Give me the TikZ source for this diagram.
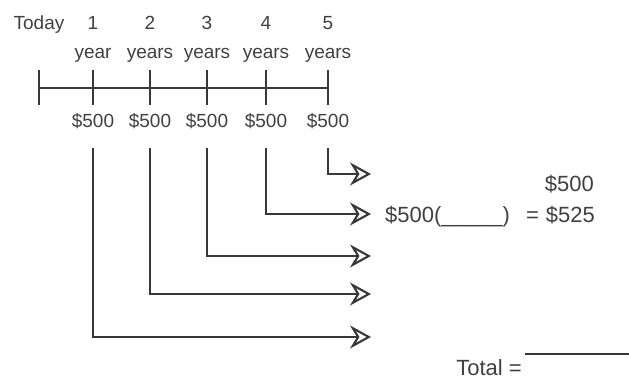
\documentclass[tikz,border=0pt]{standalone}
\usepackage{fontspec}
\setmainfont{Liberation Sans}
\usetikzlibrary{arrows.meta}
\begin{document}
\begin{tikzpicture}[x=1pt,y=-1pt,
  ln/.style={line width=2.1pt, draw=black!78},
  lbl/.style={font=\fontsize{19}{21}\selectfont, text=black!75, inner sep=0pt, anchor=base},
  big/.style={lbl, font=\fontsize{22}{24}\selectfont},
  flow/.style={ln, -{Stealth[open, length=21pt, width=23pt, inset=7pt, line width=2.1pt]}}]
\useasboundingbox (0,0) rectangle (629,380);
% timeline
\foreach \i/\x in {0/39,1/93,2/150,3/207,4/266,5/328}{
  \coordinate (t\i) at (\x,88);
  \draw[ln] (\x,70) -- (\x,105);
}
\draw[ln] (t0) -- (t5);
% labels
\node[lbl] (today) at (39,29) {Today};
\node[lbl] (n1) at (93,29) {1};
\node[lbl] (n2) at (150,29) {2};
\node[lbl] (n3) at (207,29) {3};
\node[lbl] (n4) at (266,29) {4};
\node[lbl] (n5) at (328,29) {5};
\node[lbl] (y1) at (93,58) {year};
\node[lbl] (y2) at (150,58) {years};
\node[lbl] (y3) at (207,58) {years};
\node[lbl] (y4) at (266,58) {years};
\node[lbl] (y5) at (328,58) {years};
\node[lbl] (d1) at (93,127) {\$500};
\node[lbl] (d2) at (150,127) {\$500};
\node[lbl] (d3) at (207,127) {\$500};
\node[lbl] (d4) at (266,127) {\$500};
\node[lbl] (d5) at (328,127) {\$500};
% flows
\foreach \i/\x/\y in {1/93/337,2/150/294,3/207/256,4/266/214,5/328/174}{
  \coordinate (s\i) at (\x,148);
  \coordinate (e\i) at (371,\y);
  \draw[flow] (s\i) |- (e\i);
}
% right texts
\node[big, anchor=base west] (fv) at (385,222) {\$500(\_\_\_\_\_)};
\node[big, anchor=base west] (eq) at (526,222) {=};
\node[big, anchor=base east] (res) at (595,222) {\$525};
\node[big, anchor=base east] (den) at (594,191) {\$500};
\node[big, anchor=base east] (total) at (522,375) {Total =};
\coordinate (bl) at (525,354);
\coordinate (br) at (629,354);
\draw[line width=1.6pt, draw=black!78] (bl) -- (br);
\end{tikzpicture}
\end{document}
